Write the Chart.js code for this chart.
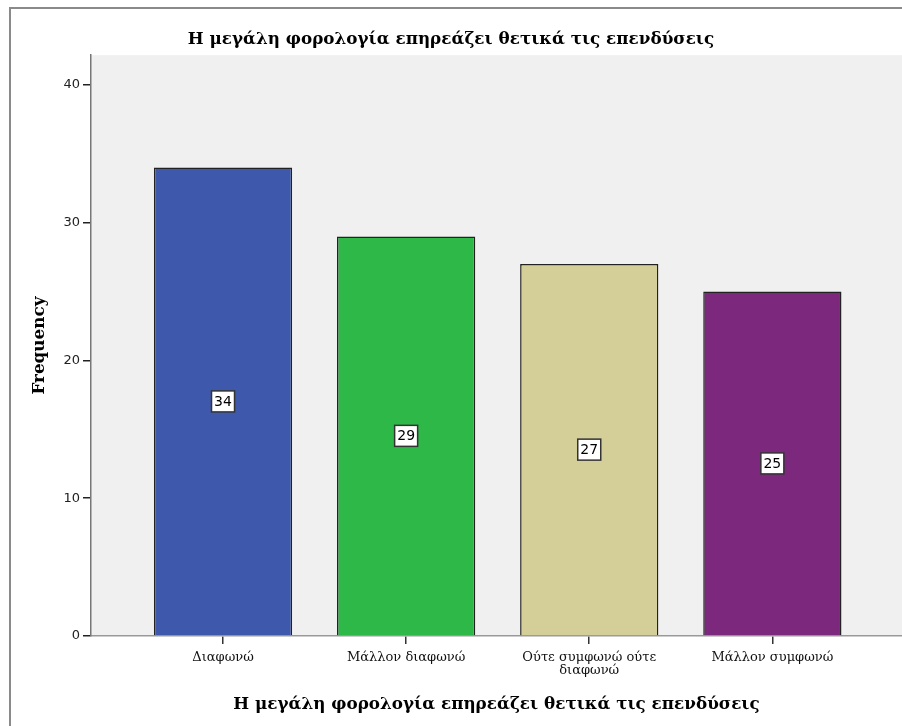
<!DOCTYPE html>
<html lang="el">
<head>
	<meta charset="UTF-8">
	<title>Bar Chart</title>
	<script src="https://cdn.jsdelivr.net/npm/chart.js"></script>
	<style>
		body { margin: 0; background: #fff; }
		.wrap { position: relative; width: 902px; height: 726px; overflow: hidden; }
		/* SPSS style outer frame, right and bottom edges run off the page */
		.frame { position: absolute; left: 9px; top: 7px; width: 1000px; height: 1000px;
			border-left: 2px solid #8a8a8a; border-top: 2px solid #8a8a8a; pointer-events: none; }
		canvas { position: absolute; left: 0; top: 0; }
	</style>
</head>
<body>
	<div class="wrap">
		<canvas id="barChart" width="902" height="726"></canvas>
		<div class="frame"></div>
	</div>

	<script type="text/javascript">
		var categories = [['Διαφωνώ'], ['Μάλλον διαφωνώ'], ['Ούτε συμφωνώ ούτε', 'διαφωνώ'], ['Μάλλον συμφωνώ']];
		var frequency = [34, 29, 27, 25];
		var barColors = ['#3e58ac', '#2eb848', '#d4cf98', '#7b287d'];
		var yTicks = [0, 10, 20, 30, 40];
		var chartTitle = 'Η μεγάλη φορολογία επηρεάζει θετικά τις επενδύσεις';

		var serif = '"DejaVu Serif", "Liberation Serif", serif';
		var sans = '"DejaVu Sans", sans-serif';

		// grey plot background
		var plotBg = {
			id: 'plotBg',
			beforeDraw: function (chart) {
				var a = chart.chartArea, ctx = chart.ctx;
				ctx.save();
				ctx.fillStyle = '#f0f0f0';
				ctx.fillRect(a.left, a.top, a.right - a.left, a.bottom - a.top);
				ctx.restore();
			}
		};

		// boxed value labels in the middle of each bar
		var valueBoxes = {
			id: 'valueBoxes',
			afterDatasetsDraw: function (chart) {
				var ctx = chart.ctx;
				var meta = chart.getDatasetMeta(0);
				ctx.save();
				ctx.font = '14px ' + sans;
				ctx.textAlign = 'center';
				ctx.textBaseline = 'middle';
				meta.data.forEach(function (bar, i) {
					var cy = (bar.y + bar.base) / 2;
					var w = 23, h = 21;
					ctx.fillStyle = '#ffffff';
					ctx.fillRect(bar.x - w / 2, cy - h / 2, w, h);
					ctx.lineWidth = 1.5;
					ctx.strokeStyle = '#333';
					ctx.strokeRect(bar.x - w / 2, cy - h / 2, w, h);
					ctx.fillStyle = '#000';
					ctx.fillText(String(frequency[i]), bar.x, cy + 1);
				});
				ctx.restore();
			}
		};

		var points = frequency.map(function (v, i) { return { x: i, y: v }; });

		var ctx = document.getElementById('barChart').getContext('2d');
		var myChart = new Chart(ctx, {
			type: 'bar',
			data: {
				datasets: [{
					label: 'Frequency',
					data: points,
					backgroundColor: barColors,
					borderColor: '#222',
					borderWidth: 1.5,
					barPercentage: 0.755,
					categoryPercentage: 1
				}]
			},
			options: {
				responsive: false,
				animation: false,
				layout: { padding: 0 },
				plugins: {
					legend: { display: false },
					tooltip: { enabled: false },
					title: {
						display: true,
						text: chartTitle,
						color: '#000',
						font: { family: serif, size: 16.8, weight: 'bold', lineHeight: 1.2 },
						padding: { top: 30, bottom: 5 }
					}
				},
				scales: {
					x: {
						type: 'linear',
						offset: false,
						min: -0.721,
						max: 3.708,
						afterBuildTicks: function (s) { s.ticks = categories.map(function (c, i) { return { value: i }; }); },
						afterFit: function (s) { s.height = 90; },
						ticks: {
							callback: function (v) { return categories[v]; },
							color: '#111',
							font: { family: serif, size: 13, lineHeight: 1.0 },
							padding: 7,
							maxRotation: 0,
							autoSkip: false
						},
						grid: { offset: false, drawOnChartArea: false, tickLength: 8, color: '#333', lineWidth: 1.5 },
						border: { color: '#999', width: 1.5 },
						title: {
							display: true,
							text: chartTitle,
							color: '#000',
							font: { family: serif, size: 16.8, weight: 'bold', lineHeight: 1.2 },
							padding: { top: 0, bottom: 11 }
						}
					},
					y: {
						min: 0,
						max: 42.16,
						afterBuildTicks: function (s) { s.ticks = yTicks.map(function (v) { return { value: v }; }); },
						afterFit: function (s) { s.width = 91; },
						ticks: {
							color: '#222',
							font: { family: sans, size: 13 },
							padding: 3
						},
						grid: { drawOnChartArea: false, tickLength: 8, color: '#222', lineWidth: 1.5 },
						border: { color: '#777', width: 1.5 },
						title: {
							display: true,
							text: 'Frequency',
							color: '#000',
							font: { family: serif, size: 16.8, weight: 'bold', lineHeight: 1.2 },
							padding: { top: 30, bottom: 0 }
						}
					}
				}
			},
			plugins: [plotBg, valueBoxes]
		});
	</script>
</body>
</html>
